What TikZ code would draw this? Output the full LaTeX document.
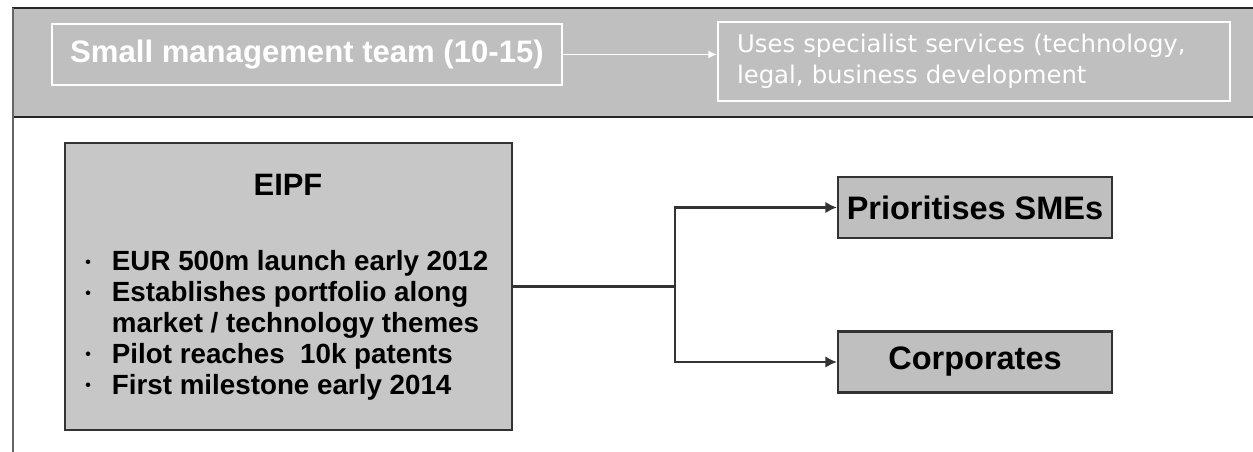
\documentclass[tikz,border=0pt]{standalone}
\usepackage{fontspec}
\setmainfont{Liberation Sans}
\newfontfamily\servfont{DejaVu Sans}
\usetikzlibrary{arrows.meta,calc}
\newcommand{\dotitem}{\raisebox{2.2pt}{\fontsize{9}{9}\selectfont\textbullet}}

\begin{document}
\begin{tikzpicture}[
      x=0.02cm, y=-0.02cm,
      every node/.style={align=center, inner sep=0pt},
      frame/.style={draw=black!85, line width=1.3pt},
      side/.style={draw=black!60, line width=0.9pt},
      team/.style={draw=white, line width=1pt, text=white,
                   minimum width=10.2cm, minimum height=1.22cm,
                   font=\fontsize{17.7}{20}\selectfont\bfseries},
      serv/.style={draw=white, line width=1pt, text=white, align=left,
                   inner xsep=0.38cm, text width=9.48cm,
                   minimum width=10.24cm, minimum height=1.58cm,
                   font=\fontsize{13.85}{17.6}\selectfont\servfont},
      fund/.style={draw=black!80, line width=1.3pt, fill=black!22,
                   minimum width=8.94cm, minimum height=5.74cm},
      target/.style={draw=black!80, line width=1.3pt, fill=black!25,
                     minimum width=5.48cm, minimum height=1.22cm,
                     font=\fontsize{18.5}{20}\selectfont\bfseries},
      flow/.style={-{Latex[length=6.5pt,width=6.5pt]}, line width=1.2pt, draw=black!80},
      wflow/.style={-{Latex[length=5pt,width=4.5pt]}, line width=1pt, draw=white},
  ]
  \useasboundingbox (0,0) rectangle (1253,452);

  % Top band with frame
  \fill[black!25] (13,8) rectangle (1253,117);
  \draw[frame] (12,8) -- (1253,8);
  \draw[frame] (12,117) -- (1253,117);
  \draw[side] (13,8) -- (13,452);

  % Team and services
  \node[team] (team) at (307,54.5) {Small management team (10-15)};
  \node[serv] (serv) at (974,61.5) {Uses specialist services (technology,\\legal, business development};
  \draw[wflow] (team.east) -- (team.east -| serv.west);

  % Fund box
  \node[fund] (eipf) at (288.5,286.5) {};
  \node[font=\fontsize{17.6}{20}\selectfont\bfseries] (title) at (288,185) {EIPF};
  \node[anchor=north west, align=left,
        font=\fontsize{15.8}{17.6}\selectfont\bfseries] (items) at (85,249) {%
    \begin{tabular}{@{}l@{\hspace{12pt}}l@{}}
      \dotitem & EUR 500m launch early 2012\\
      \dotitem & Establishes portfolio along\\
               & market / technology themes\\
      \dotitem & Pilot reaches \ 10k patents\\
      \dotitem & First milestone early 2014
    \end{tabular}};

  % Targets
  \node[target] (smes) at (975,207.5) {Prioritises SMEs};
  \node[target] (corp) at (975,362) {Corporates};

  % Split connector
  \coordinate (split) at (675,286.5);
  \draw[line width=1.2pt, draw=black!80] (eipf.east) -- (split);
  \draw[flow] (split) |- (smes.west);
  \draw[flow] (split) |- (corp.west);

  \end{tikzpicture}
\end{document}
